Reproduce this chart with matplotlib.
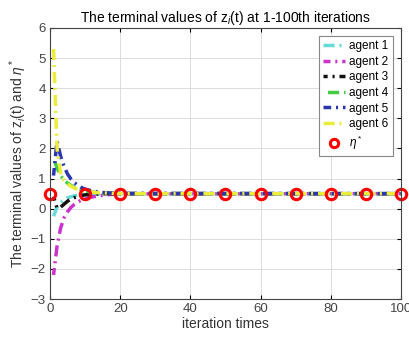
import matplotlib
matplotlib.use('Agg')
import matplotlib.pyplot as plt

plt.rcParams['font.family'] = ['Liberation Sans', 'DejaVu Sans']
plt.rcParams['mathtext.fontset'] = 'custom'
plt.rcParams['mathtext.rm'] = 'Liberation Sans'
plt.rcParams['mathtext.it'] = 'Liberation Sans:italic'

# iteration index and terminal values of each agent
iters = [1, 2, 3, 4, 5, 6, 7, 8, 9, 10, 12, 14, 16, 18, 20, 100]
agent1 = [-0.25, 0.05, 0.2, 0.3, 0.36, 0.4, 0.43, 0.45, 0.46, 0.47, 0.48, 0.49, 0.5, 0.5, 0.5, 0.5]
agent2 = [-2.2, -1.25, -0.65, -0.3, -0.1, 0.05, 0.15, 0.23, 0.29, 0.33, 0.39, 0.43, 0.46, 0.48, 0.49, 0.5]
agent3 = [0.4, 0.02, 0.05, 0.15, 0.25, 0.32, 0.37, 0.41, 0.44, 0.46, 0.48, 0.49, 0.5, 0.5, 0.5, 0.5]
agent4 = [1.7, 1.35, 1.1, 0.95, 0.85, 0.77, 0.71, 0.66, 0.62, 0.59, 0.55, 0.53, 0.52, 0.51, 0.5, 0.5]
agent5 = [1.1, 2.25, 1.75, 1.4, 1.15, 0.98, 0.86, 0.77, 0.7, 0.65, 0.59, 0.55, 0.53, 0.52, 0.51, 0.5]
agent6 = [5.3, 2.0, 1.2, 0.95, 0.82, 0.74, 0.68, 0.64, 0.6, 0.58, 0.55, 0.53, 0.52, 0.51, 0.5, 0.5]
eta_x = [0, 10, 20, 30, 40, 50, 60, 70, 80, 90, 100]
eta_y = [0.5] * 11

agents = [agent1, agent2, agent3, agent4, agent5, agent6]
names = ['agent 1', 'agent 2', 'agent 3', 'agent 4', 'agent 5', 'agent 6']
colors = ['#66dcd8', '#cc33cc', '#111111', '#44cc44', '#2a35b0', '#ecec3a']
offsets = [0, 1.2, 2.0, 5.3, 1.0, 0]
pattern = (3.2, 1.4, 0.6, 1.4)

fig = plt.figure(figsize=(4.1, 3.45), dpi=100)
ax = fig.add_axes([0.122, 0.133, 0.856, 0.786])

for vals, name, c, off in zip(agents, names, colors, offsets):
    ax.plot(iters, vals, color=c, linewidth=2.5, label=name,
            linestyle=(off, pattern), dash_capstyle='butt')
ax.plot(eta_x, eta_y, 'o', markerfacecolor='none', markeredgecolor='red',
        markeredgewidth=2.2, markersize=7.5, label=r'$\eta^*$', clip_on=False)

ax.set_xlim(0, 100)
ax.set_ylim(-3, 6)
ax.set_xticks(range(0, 101, 20))
ax.set_yticks(range(-3, 7))
ax.grid(True, color='#dddddd', linewidth=0.7)
ax.tick_params(direction='in', labelsize=9.5, labelcolor='#444444', length=3, pad=3,
               top=True, right=True, labeltop=False, labelright=False)
for s in ax.spines.values():
    s.set_color('#444444')
    s.set_linewidth(0.8)

ax.set_title('The terminal values of z$_i$(t) at 1-100th iterations', fontsize=10, pad=4)
ax.set_xlabel('iteration times', fontsize=10, labelpad=1, color='#333333')
ax.set_ylabel('The terminal values of z$_i$(t) and $\\eta^*$', fontsize=10, labelpad=1, color='#333333')

leg = ax.legend(loc='upper right', fontsize=8.5, handlelength=1.9, handletextpad=0.35,
                fancybox=False, framealpha=1, edgecolor='#888888', borderaxespad=0.7,
                labelspacing=0.3, borderpad=0.35, markerscale=0.8)
leg.get_frame().set_linewidth(0.8)

fig.savefig('out.png', dpi=100)
